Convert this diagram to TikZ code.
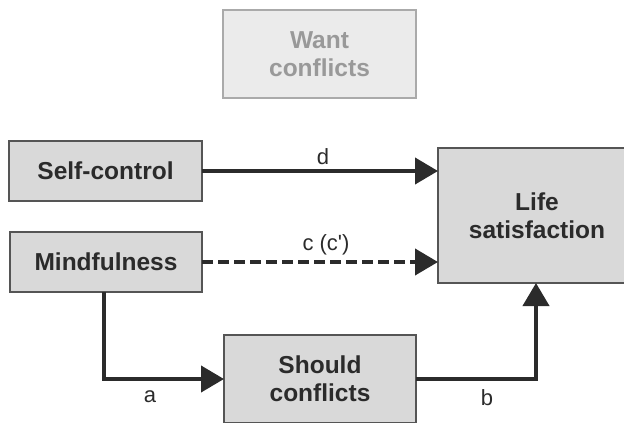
\documentclass[tikz,border=0pt]{standalone}
\usepackage{fontspec}
\setmainfont{Liberation Sans}
\usetikzlibrary{arrows.meta}
\definecolor{boxfill}{HTML}{D9D9D9}
\definecolor{boxline}{HTML}{555555}
\definecolor{ink}{HTML}{2B2B2B}
\definecolor{wantfill}{HTML}{EBEBEB}
\definecolor{wantline}{HTML}{AAAAAA}
\definecolor{wanttext}{HTML}{999999}
\tikzset{
  varbox/.style={draw=boxline, line width=1.6pt, fill=boxfill, text=ink,
    font=\fontsize{24.5}{28}\selectfont\bfseries, align=center,
    inner sep=0pt, outer sep=0pt},
  wantbox/.style={varbox, draw=wantline, fill=wantfill, text=wanttext},
  pathlab/.style={text=ink, font=\fontsize{22}{26}\selectfont, inner sep=0pt},
  conn/.style={draw=ink, line width=4pt, -{Triangle[length=23pt,width=26pt]}},
  dashconn/.style={conn, dash pattern=on 11pt off 5pt}
}
\begin{document}
\begin{tikzpicture}[x=1pt,y=-1pt]
\clip (0,0) rectangle (624,423);
\fill[white] (0,0) rectangle (624,423);
\node[wantbox, minimum width=193pt, minimum height=88pt] (want) at (319.5,54) {Want\\conflicts};
\node[varbox, minimum width=193pt, minimum height=60pt] (self) at (105.5,171) {Self-control};
\node[varbox, minimum width=192pt, minimum height=60pt] (mind) at (106,262) {Mindfulness};
\node[varbox, minimum width=198pt, minimum height=135pt] (life) at (537,215.5) {Life\\satisfaction};
\node[varbox, minimum width=192pt, minimum height=88pt] (should) at (320,379) {Should\\conflicts};
\draw[conn] (self.east) -- (self.east -| life.west);
\draw[dashconn] (mind.east) -- (mind.east -| life.west);
\draw[conn] ([xshift=-2pt]mind.south) |- (should.west);
\draw[conn] (should.east) -| ([xshift=-1pt]life.south);
\node[pathlab] (labd) at (323,157) {d};
\node[pathlab] (labc) at (326,245) {c (c\textquotesingle)};
\node[pathlab] (laba) at (150,397) {a};
\node[pathlab] (labb) at (487,398) {b};
\end{tikzpicture}
\end{document}
